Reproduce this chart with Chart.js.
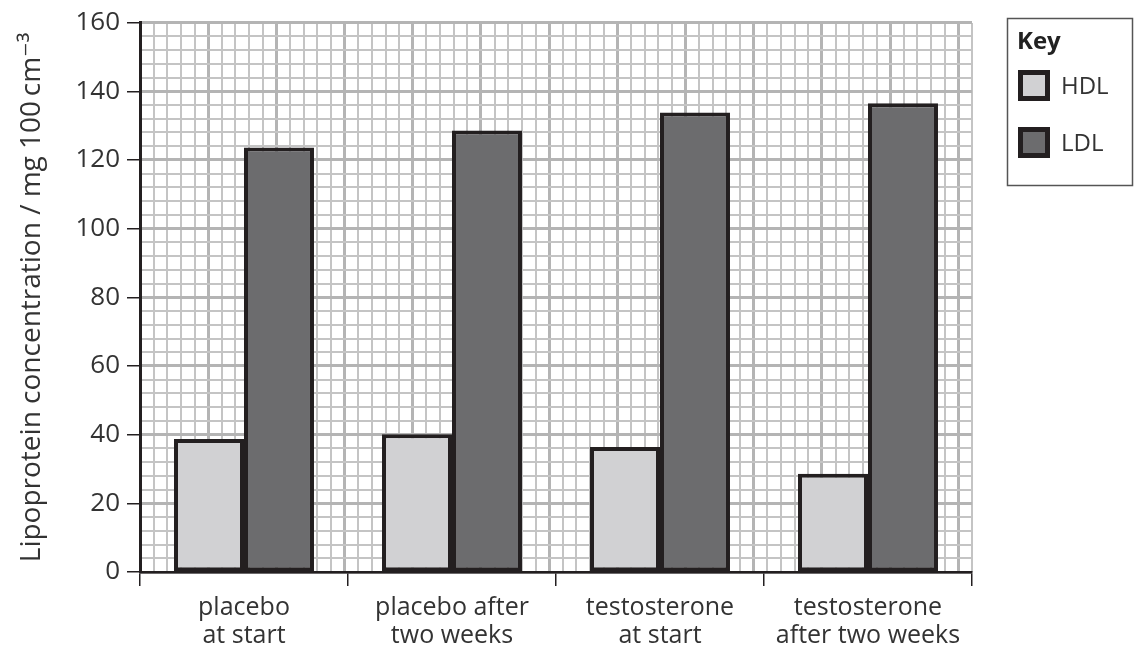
<!DOCTYPE html>
<html>
<head>
<meta charset="utf-8">
<script src="https://cdn.jsdelivr.net/npm/chart.js@4.4.0/dist/chart.umd.min.js"></script>
<style>
  html, body { margin: 0; padding: 0; background: #fff; }
  #wrap { width: 1135px; height: 652px; }
</style>
</head>
<body>
<div id="wrap"><canvas id="chart"></canvas></div>
<script>
// Data
const categories = [
  ['placebo', 'at start'],
  ['placebo after', 'two weeks'],
  ['testosterone', 'at start'],
  ['testosterone', 'after two weeks']
];
const hdlValues = [38.7, 40.1, 36.4, 28.6];
const ldlValues = [123.6, 128.6, 133.8, 136.5];

const FONT = "'Open Sans', 'DejaVu Sans', sans-serif";
const TEXT = '#333';
const INK = '#231f20';

// graph-paper grid: minor line every cell, heavier every 5 cells
function isMajor(ctx, every) {
  return ctx.tick && Math.round(ctx.tick.value) % every === 0;
}
function gridColor(every) {
  return ctx => (isMajor(ctx, every) ? '#b4b4b4' : '#c4c4c4');
}
function gridWidth(every) {
  return ctx => (isMajor(ctx, every) ? 3 : 2);
}

// Key box on the right
const keyPlugin = {
  id: 'keyBox',
  afterDraw(chart) {
    const c = chart.ctx;
    c.save();
    c.strokeStyle = '#555';
    c.lineWidth = 1.5;
    c.strokeRect(1007.5, 18.5, 125, 167);
    c.fillStyle = '#222';
    c.font = 'bold 24px ' + FONT;
    c.textBaseline = 'middle';
    c.fillText('Key', 1017, 42);
    chart.data.datasets.forEach((ds, i) => {
      const y = 70 + i * 57;
      c.fillStyle = ds.backgroundColor;
      c.fillRect(1018, y, 32, 31);
      c.lineWidth = 5;
      c.strokeStyle = INK;
      c.strokeRect(1020.5, y + 2.5, 27, 26);
      c.fillStyle = TEXT;
      c.font = '24px ' + FONT;
      c.fillText(ds.label, 1061, y + 17);
    });
    c.restore();
  }
};

new Chart(document.getElementById('chart'), {
  type: 'bar',
  data: {
    labels: categories,
    datasets: [
      {
        label: 'HDL',
        data: hdlValues,
        backgroundColor: '#d1d1d3',
        borderColor: INK,
        borderWidth: 4,
        borderSkipped: false
      },
      {
        label: 'LDL',
        data: ldlValues,
        backgroundColor: '#6c6c6e',
        borderColor: INK,
        borderWidth: 4,
        borderSkipped: false
      }
    ]
  },
  options: {
    responsive: true,
    maintainAspectRatio: false,
    animation: false,
    layout: { padding: { top: 17, right: 163, left: 0, bottom: 0 } },
    datasets: { bar: { categoryPercentage: 0.673, barPercentage: 1.0 } },
    plugins: { legend: { display: false }, tooltip: { enabled: false } },
    scales: {
      x: {
        type: 'category',
        position: 'bottom',
        grid: { offset: true, drawOnChartArea: false, tickLength: 14, color: INK, lineWidth: 1.5, z: 1 },
        border: { color: INK, width: 2.5, z: 1 },
        ticks: {
          color: TEXT,
          font: { family: FONT, size: 25, lineHeight: 1.12 },
          padding: 8,
          maxRotation: 0,
          autoSkip: false
        },
        afterFit: s => { s.height = 80; }
      },
      y: {
        min: 0,
        max: 160,
        ticks: { color: TEXT, font: { family: FONT, size: 26 }, padding: 7, stepSize: 20 },
        grid: { drawOnChartArea: false, tickLength: 13, color: INK, lineWidth: 1.5, z: 1 },
        border: { color: INK, width: 3, z: 1 },
        title: {
          display: true,
          text: 'Lipoprotein concentration / mg 100\u2009cm\u207B\u00B3',
          color: TEXT,
          font: { family: FONT, size: 28 },
          padding: { top: 15, bottom: 0 }
        },
        afterFit: s => { s.width = 140; }
      },
      gx: {
        type: 'linear',
        position: 'top',
        min: 0,
        max: 60,
        ticks: { display: false, stepSize: 1 },
        grid: { drawTicks: false, color: gridColor(5), lineWidth: gridWidth(5) },
        border: { display: false },
        afterFit: s => { s.height = 0; }
      },
      gy: {
        type: 'linear',
        position: 'right',
        min: 0,
        max: 160,
        ticks: { display: false, stepSize: 4 },
        grid: { drawTicks: false, color: gridColor(20), lineWidth: gridWidth(20) },
        border: { display: false },
        afterFit: s => { s.width = 0; }
      }
    }
  },
  plugins: [keyPlugin]
});
</script>
</body>
</html>
